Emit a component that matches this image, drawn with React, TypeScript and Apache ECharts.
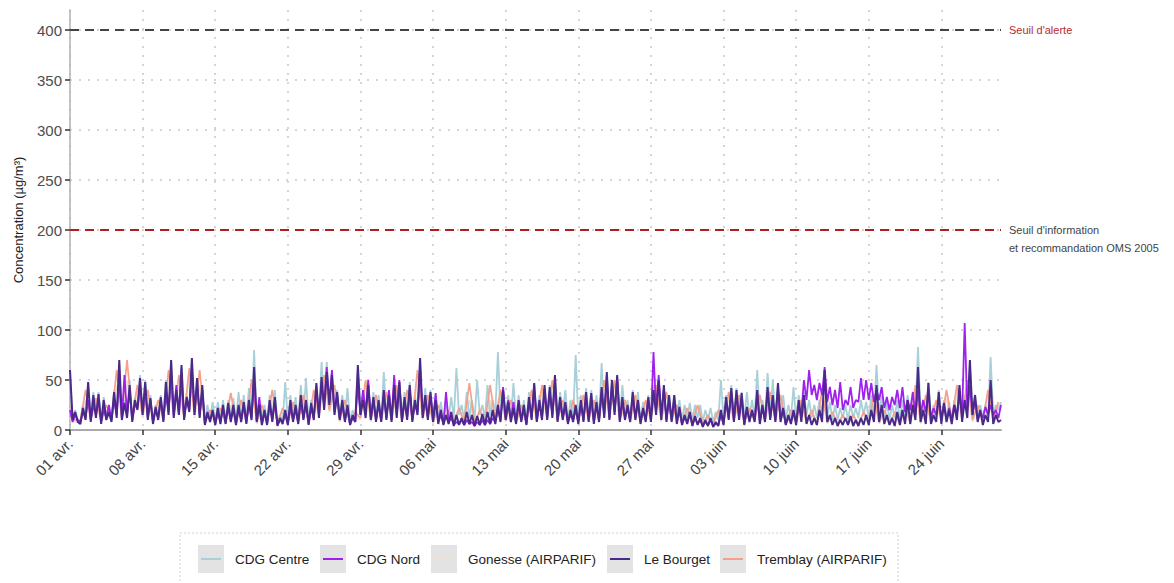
import React, { useEffect, useRef } from 'react';
import * as echarts from 'echarts';

const START = Date.UTC(2019, 3, 1);
const HOUR = 3600 * 1000;
const STEP_MAIN = 6; // hours
const STEP_AIRPARIF = 12; // hours

// Le Bourget, every 6 h from 01 avr.
const leBourget = [
  60,10,18,8, 6,22,10,48, 8,35,12,36, 6,30,10,18, 8,38,12,70,
  10,27,12,45, 8,30,20,52, 15,48,10,32, 6,23,10,33, 8,48,15,70,
  12,40,15,65, 10,33,18,72, 15,52,12,45, 5,18,8,20, 5,22,6,25,
  6,27,8,25, 5,25,8,28, 6,30,10,63, 8,25,5,20, 5,30,8,33,
  4,12,6,20, 5,30,8,25, 6,35,10,30, 5,27,10,47, 12,53,20,58,
  25,55,15,38, 10,30,8,25, 5,15,8,65, 15,30,12,45, 10,33,8,30,
  8,40,10,35, 8,45,12,48, 8,33,10,45, 8,30,15,72, 12,35,10,38,
  8,30,6,20, 5,15,6,18, 4,15,5,12, 5,18,6,15, 4,14,5,16,
  5,18,6,20, 6,25,8,40, 10,28,8,22, 6,30,8,25, 5,33,10,47,
  8,30,10,45, 10,43,12,55, 8,33,10,28, 6,20,8,25, 6,30,8,38,
  8,37,6,28, 8,43,12,58, 10,50,15,55, 8,33,10,25, 8,38,10,30,
  6,22,8,33, 8,40,15,50, 10,45,8,35, 8,35,6,23, 5,15,6,18,
  4,14,5,12, 3,10,4,12, 3,8,4,20, 5,33,10,42, 8,40,10,37,
  5,23,8,20, 8,40,6,25, 8,43,10,35, 8,47,8,22, 5,15,6,20,
  5,30,8,35, 6,15,5,12, 5,20,8,60, 8,15,5,12, 4,10,5,12,
  5,14,4,10, 4,12,5,15, 5,20,8,45, 8,25,6,15, 5,12,4,18,
  5,20,6,30, 6,25,10,63, 8,20,6,47, 6,15,8,38, 6,27,8,20,
  6,25,10,45, 8,30,12,70, 15,35,8,20, 5,15,8,50, 6,15,8,10,
];

// CDG Nord, every 6 h
const cdgNord = [
  20,8,15,10, 8,18,12,30, 10,25,15,30, 8,20,12,25, 10,30,15,50,
  12,55,15,40, 10,25,22,45, 18,40,12,30, 8,20,12,30, 10,35,18,55,
  15,45,15,50, 12,30,20,60, 18,45,15,40, 6,15,10,18, 6,18,8,22,
  8,22,10,20, 6,20,10,25, 8,25,12,50, 10,33,6,18, 6,25,10,28,
  5,10,8,15, 6,22,10,20, 8,28,12,25, 6,22,12,40, 15,45,25,63,
  28,60,18,35, 12,25,10,20, 6,12,8,45, 15,40,18,50, 12,30,10,25,
  10,35,12,40, 10,55,15,50, 10,28,12,40, 10,25,18,60, 15,30,12,35,
  10,37,8,15, 6,38,8,12, 5,8,6,10, 5,10,6,8, 4,8,5,10,
  5,10,6,12, 8,20,10,43, 12,30,10,28, 8,25,10,20, 6,28,12,40,
  10,25,12,38, 12,38,15,45, 10,28,12,25, 8,15,10,20, 8,25,10,33,
  10,30,8,25, 10,38,15,50, 12,45,18,50, 10,28,12,22, 10,33,12,28,
  8,20,10,30, 10,78,20,55, 15,40,10,30, 10,30,8,20, 6,12,8,15,
  5,12,6,10, 4,8,5,10, 4,6,5,15, 6,28,12,38, 10,35,12,32,
  6,20,10,18, 10,35,8,22, 10,38,12,30, 10,40,10,20, 6,12,8,18,
  8,25,15,50, 30,60,35,45, 30,47,35,63, 28,43,25,40, 22,48,20,30,
  25,43,22,30, 28,52,30,50, 30,47,28,40, 30,43,22,33, 20,33,25,40,
  22,43,18,30, 20,38,15,40, 15,30,18,35, 12,22,15,30, 12,25,10,22,
  10,25,15,35, 15,107,20,45, 15,30,10,18, 12,23,15,25, 15,20,12,25,
];

// CDG Centre, every 6 h
const cdgCentre = [
  55,12,20,10, 8,25,12,45, 10,38,15,38, 8,33,12,22, 10,40,15,65,
  12,30,15,50, 10,32,22,55, 18,50,12,35, 8,25,12,35, 10,50,18,68,
  15,42,18,62, 12,35,20,70, 18,50,15,42, 8,25,10,28, 8,28,10,30,
  10,30,12,32, 8,38,10,35, 10,42,15,80, 10,28,8,25, 8,35,10,40,
  6,15,8,48, 8,35,10,33, 8,45,12,52, 8,30,12,45, 15,68,22,68,
  25,50,18,40, 12,35,10,42, 8,20,10,60, 15,40,18,48, 12,38,10,35,
  10,58,12,40, 10,45,15,45, 10,38,12,48, 10,35,18,65, 15,42,12,40,
  10,35,10,28, 10,25,12,33, 12,62,15,25, 10,38,12,30, 10,50,15,25,
  12,45,15,30, 15,78,18,40, 15,35,12,47, 12,35,10,30, 10,38,15,45,
  12,35,15,42, 15,45,18,55, 12,38,15,40, 10,30,12,75, 10,35,12,42,
  12,40,10,35, 12,67,15,55, 12,50,18,52, 12,45,15,30, 12,40,12,38,
  10,28,12,35, 12,45,18,48, 15,42,12,35, 12,35,15,30, 10,25,12,27,
  10,25,12,25, 8,20,10,22, 8,18,10,50, 10,35,12,45, 12,42,15,38,
  10,38,12,30, 12,60,10,30, 12,57,15,50, 12,45,12,35, 10,25,12,43,
  10,35,12,38, 15,30,12,25, 12,30,15,55, 12,28,10,25, 10,22,12,25,
  10,25,12,22, 12,30,15,28, 12,35,15,65, 15,35,10,28, 10,25,12,30,
  10,30,12,35, 12,35,15,83, 12,30,10,48, 10,25,12,40, 10,30,12,28,
  10,30,15,42, 12,35,15,65, 15,35,12,25, 12,25,12,73, 15,25,20,28,
];

// Tremblay (AIRPARIF), every 12 h
const tremblay = [
  15,10, 10,40, 12,32, 10,25, 12,60, 15,70, 15,45, 15,40, 10,30, 12,60,
  15,55, 15,62, 15,60, 8,20, 8,22, 8,37, 8,30, 10,50, 8,25, 8,40,
  6,22, 8,28, 8,35, 8,40, 15,55, 20,45, 10,30, 6,18, 12,50, 10,35,
  10,38, 10,45, 10,40, 12,60, 12,35, 8,25, 8,20, 8,22, 8,47, 6,20,
  8,45, 10,40, 10,30, 8,25, 8,40, 10,45, 12,50, 10,30, 8,30, 8,35,
  10,30, 10,50, 12,50, 10,30, 10,35, 8,30, 12,45, 10,38, 10,25, 8,22,
  8,25, 6,15, 6,20, 8,38, 10,35, 8,22, 10,35, 10,38, 10,35, 6,20,
  8,30, 8,20, 6,40, 8,18, 6,15, 6,15, 6,18, 8,35, 8,20, 6,18,
  6,25, 8,45, 8,35, 8,30, 10,40, 10,45, 12,50, 10,25, 10,40, 10,28,
];

// Gonesse (AIRPARIF), every 12 h
const gonesse = [
  12,8, 8,30, 10,28, 8,20, 10,45, 12,50, 12,40, 12,35, 8,25, 10,50,
  12,45, 12,55, 12,45, 6,18, 6,20, 6,25, 6,25, 8,45, 6,20, 6,30,
  5,18, 6,25, 6,30, 6,35, 12,50, 18,40, 8,25, 5,15, 10,45, 8,30,
  8,35, 8,40, 8,35, 10,50, 10,30, 6,22, 6,18, 6,20, 6,30, 5,18,
  6,30, 8,35, 8,28, 6,22, 6,35, 8,38, 10,45, 8,28, 6,30, 6,30,
  8,28, 8,45, 10,45, 8,28, 8,30, 6,25, 10,40, 8,35, 8,25, 6,20,
  6,22, 5,15, 5,18, 6,32, 8,30, 6,20, 8,32, 8,35, 8,30, 5,18,
  6,25, 6,18, 5,35, 6,16, 5,14, 5,14, 5,16, 6,30, 6,18, 5,16,
  5,22, 6,40, 6,30, 6,25, 8,32, 8,38, 10,45, 8,22, 8,35, 8,25,
];

const yTicks = [0, 50, 100, 150, 200, 250, 300, 350, 400];
// x ticks: hours since 01 avr., one per week
const weekTicks = [0, 168, 336, 504, 672, 840, 1008, 1176, 1344, 1512, 1680, 1848, 2016];
const monthsFr = ['janv.', 'févr.', 'mars', 'avr.', 'mai', 'juin', 'juil.', 'août', 'sept.', 'oct.', 'nov.', 'déc.'];

const alertThreshold = 400;
const infoThreshold = 200;

const FONT = '"Liberation Sans", Arial, Helvetica, sans-serif';

const seriesDefs = [
  { name: 'Gonesse (AIRPARIF)', values: gonesse, step: STEP_AIRPARIF, color: '#eee0d2', width: 1.6 },
  { name: 'CDG Centre', values: cdgCentre, step: STEP_MAIN, color: '#a9cfd8', width: 1.8 },
  { name: 'Tremblay (AIRPARIF)', values: tremblay, step: STEP_AIRPARIF, color: '#f4a08a', width: 1.7 },
  { name: 'CDG Nord', values: cdgNord, step: STEP_MAIN, color: '#a020ee', width: 1.8 },
  { name: 'Le Bourget', values: leBourget, step: STEP_MAIN, color: '#4a2a88', width: 2 },
];

const legendOrder = ['CDG Centre', 'CDG Nord', 'Gonesse (AIRPARIF)', 'Le Bourget', 'Tremblay (AIRPARIF)'];
const legendKeyX = [198, 320, 431, 607, 720];

function fmtHour(h: number) {
  const d = new Date(START + h * HOUR);
  const dd = String(d.getUTCDate()).padStart(2, '0');
  return dd + ' ' + monthsFr[d.getUTCMonth()];
}

export default function App() {
  const ref = useRef<HTMLDivElement>(null);
  useEffect(() => {
    if (!ref.current) return;
    const chart = echarts.init(ref.current, null, { renderer: 'svg' });

    const series: any[] = seriesDefs.map((s, idx) => ({
      name: s.name,
      type: 'line',
      data: s.values.map((v, i) => [i * s.step, v]),
      showSymbol: false,
      symbol: 'none',
      lineStyle: { color: s.color, width: s.width },
      itemStyle: { color: s.color },
      silent: true,
      z: 2 + idx,
    }));
    series[series.length - 1].markLine = {
      silent: true,
      symbol: ['none', 'none'],
      animation: false,
      label: { position: 'end', fontSize: 11, distance: 8, fontFamily: FONT },
      data: [
        {
          yAxis: alertThreshold,
          lineStyle: { color: '#444444', type: [9, 6], width: 2 },
          label: { formatter: "Seuil d'alerte", color: '#b8292f' },
        },
        {
          yAxis: infoThreshold,
          lineStyle: { color: '#b21e1e', type: [9, 6], width: 2 },
          label: {
            formatter: "Seuil d'information\net recommandation OMS 2005",
            color: '#444444',
            lineHeight: 18,
            offset: [0, 9],
          },
        },
      ],
    };

    const graphic: any[] = [
      {
        type: 'rect',
        x: 180,
        y: 533,
        shape: { width: 718, height: 60 },
        style: { fill: 'none', stroke: '#cfcfcf', lineDash: [2, 2], lineWidth: 1 },
      },
    ];
    legendOrder.forEach((name, i) => {
      const def = seriesDefs.find((s) => s.name === name)!;
      const x = legendKeyX[i];
      graphic.push(
        { type: 'rect', x, y: 545, shape: { width: 26, height: 28 }, style: { fill: '#e3e3e3' } },
        { type: 'line', shape: { x1: x + 3, y1: 559, x2: x + 23, y2: 559 }, style: { stroke: def.color, lineWidth: 2 } },
        {
          type: 'text',
          x: x + 37,
          y: 559,
          style: {
            text: name,
            fontSize: 13.5,
            fontFamily: FONT,
            fill: '#222222',
            verticalAlign: 'middle',
            textVerticalAlign: 'middle',
          },
        }
      );
    });

    chart.setOption({
      animation: false,
      backgroundColor: '#ffffff',
      textStyle: { fontFamily: FONT },
      grid: { left: 70, right: 173, top: 10, bottom: 153, outerBoundsMode: 'none', containLabel: false },
      xAxis: {
        type: 'value',
        min: 0,
        max: 359 * STEP_MAIN,
        axisLine: { show: true, onZero: false, lineStyle: { color: '#aaaaaa', width: 2 } },
        axisTick: { show: true, customValues: weekTicks, length: 5, lineStyle: { color: '#333333', width: 1.5 } },
        axisLabel: {
          customValues: weekTicks,
          rotate: 45,
          formatter: (v: number) => fmtHour(v),
          fontSize: 15,
          color: '#444444',
          margin: 11,
          fontFamily: FONT,
        },
        splitLine: { show: true, lineStyle: { color: '#c8c8c8', type: [2, 7], width: 1.5 } },
      },
      yAxis: {
        type: 'value',
        min: 0,
        max: 420,
        name: 'Concentration (µg/m³)',
        nameLocation: 'middle',
        nameGap: 45,
        nameTextStyle: { fontSize: 13, color: '#222222', fontFamily: FONT },
        axisLine: { show: true, lineStyle: { color: '#b0b0b0', width: 1.5 } },
        axisTick: { show: true, customValues: yTicks, length: 5, lineStyle: { color: '#333333', width: 1.5 } },
        axisLabel: { customValues: yTicks, fontSize: 15, color: '#4d4d4d', margin: 8, fontFamily: FONT },
        splitLine: { show: true, lineStyle: { color: '#c8c8c8', type: [2, 7], width: 1.5 } },
      },
      series,
      graphic,
    });
    return () => chart.dispose();
  }, []);
  return (
    <div
      ref={ref}
      style={{ position: 'absolute', left: 0, top: 0, width: 1174, height: 583 }}
    />
  );
}
